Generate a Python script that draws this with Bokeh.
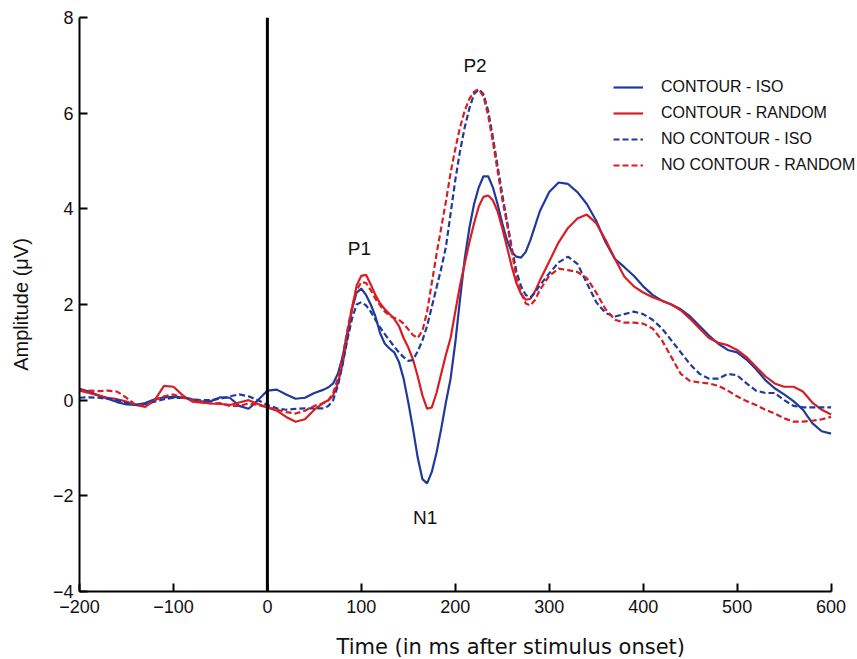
from bokeh.plotting import figure
from bokeh.models import Range1d, Span, FixedTicker, ColumnDataSource, Title
from bokeh.embed import file_html
from bokeh.resources import INLINE
from bokeh.core.properties import value

# ---------------- data ----------------
TIME_MS = [-200, -190, -180, -170, -160, -150, -140, -130, -120, -110, -100, -90, -80,
           -70, -60, -50, -40, -30, -20, -10, 0, 10, 20, 30, 40, 50,
           60, 65, 70, 75, 80, 85, 90, 95, 100, 105, 110, 115, 120, 125, 130, 135, 140,
           145, 150, 155, 160, 165, 170, 175, 180, 185, 190, 195, 200, 205, 210, 215,
           220, 225, 230, 235, 240, 245, 250, 255, 260, 265, 270, 275, 280, 285, 290,
           300, 310, 320, 330, 340, 350, 360, 370, 380, 390, 400, 410, 420, 430, 440,
           450, 460, 470, 480, 490, 500, 510, 520, 530, 540, 550, 560, 570, 580, 590, 600]

CONTOUR_ISO = [0.24, 0.18, 0.10, 0.03, -0.04, -0.09, -0.10, -0.06, 0.02, 0.06, 0.07, 0.06, 0.02,
               -0.03, -0.02, 0.06, 0.05, -0.12, -0.18, 0.00, 0.20, 0.22, 0.12, 0.03, 0.05, 0.15,
               0.22, 0.27, 0.35, 0.55, 0.90, 1.40, 1.90, 2.25, 2.33, 2.20, 2.00, 1.75, 1.40, 1.18,
               1.08, 1.00, 0.80, 0.45, -0.05, -0.60, -1.20, -1.65, -1.74, -1.50, -1.10, -0.60,
               -0.05, 0.45, 1.20, 2.10, 2.95, 3.60, 4.10, 4.45, 4.68, 4.68, 4.45, 4.10, 3.70,
               3.35, 3.10, 3.00, 2.98, 3.10, 3.35, 3.65, 3.95,
               4.35, 4.55, 4.52, 4.35, 4.10, 3.75, 3.30, 2.95, 2.78, 2.60, 2.38, 2.20, 2.08,
               2.00, 1.90, 1.75, 1.55, 1.35, 1.18, 1.05, 1.00, 0.85, 0.65, 0.42, 0.25, 0.12,
               -0.02, -0.20, -0.48, -0.65, -0.70]

CONTOUR_RANDOM = [0.20, 0.15, 0.10, 0.05, 0.02, -0.03, -0.10, -0.14, 0.00, 0.30, 0.28, 0.10, -0.03,
                  -0.05, -0.07, -0.08, -0.10, -0.05, 0.00, -0.08, -0.15, -0.22, -0.35, -0.45, -0.40, -0.20,
                  -0.05, 0.00, 0.10, 0.35, 0.75, 1.30, 1.90, 2.40, 2.60, 2.62, 2.42, 2.20, 2.02, 1.90,
                  1.80, 1.70, 1.55, 1.30, 1.10, 0.85, 0.50, 0.10, -0.18, -0.15, 0.15, 0.55,
                  0.95, 1.30, 1.85, 2.40, 2.85, 3.30, 3.70, 4.05, 4.25, 4.28, 4.18, 3.95, 3.60,
                  3.20, 2.80, 2.45, 2.22, 2.10, 2.12, 2.28, 2.50,
                  2.90, 3.30, 3.60, 3.80, 3.88, 3.70, 3.35, 2.95, 2.58, 2.38, 2.25, 2.15, 2.08,
                  2.00, 1.88, 1.70, 1.50, 1.30, 1.20, 1.15, 1.05, 0.90, 0.70, 0.50, 0.35, 0.28,
                  0.28, 0.18, -0.05, -0.20, -0.30]

NO_CONTOUR_ISO = [0.05, 0.06, 0.05, 0.03, 0.00, -0.06, -0.10, -0.08, -0.03, 0.02, 0.05, 0.05, 0.02,
                  0.00, 0.00, 0.03, 0.08, 0.12, 0.08, 0.00, -0.10, -0.17, -0.20, -0.18, -0.17, -0.17,
                  -0.17, -0.12, 0.00, 0.30, 0.75, 1.25, 1.70, 2.00, 2.05, 1.98, 1.85, 1.68, 1.52, 1.38,
                  1.25, 1.12, 1.00, 0.90, 0.82, 0.84, 1.02, 1.25, 1.55, 1.95, 2.35, 2.75,
                  3.20, 3.90, 4.60, 5.20, 5.70, 6.10, 6.40, 6.50, 6.40, 6.05, 5.50, 4.90, 4.30,
                  3.75, 3.20, 2.70, 2.38, 2.20, 2.15, 2.25, 2.40,
                  2.65, 2.88, 3.00, 2.85, 2.45, 2.05, 1.82, 1.75, 1.80, 1.85, 1.80, 1.68, 1.50,
                  1.25, 1.00, 0.75, 0.55, 0.45, 0.45, 0.55, 0.52, 0.35, 0.20, 0.15, 0.15, 0.00,
                  -0.12, -0.15, -0.15, -0.15, -0.15]

NO_CONTOUR_RANDOM = [0.20, 0.20, 0.19, 0.20, 0.18, 0.05, -0.10, -0.12, 0.00, 0.08, 0.12, 0.05, 0.00,
                     -0.03, -0.07, -0.06, -0.12, -0.12, -0.07, -0.10, -0.15, -0.20, -0.25, -0.28, -0.22, -0.12,
                     -0.06, 0.00, 0.15, 0.45, 0.90, 1.45, 1.95, 2.30, 2.47, 2.45, 2.30, 2.12, 1.98, 1.85,
                     1.77, 1.72, 1.68, 1.60, 1.48, 1.36, 1.30, 1.45, 1.85, 2.45, 3.05, 3.60,
                     4.15, 4.75, 5.25, 5.70, 6.05, 6.30, 6.45, 6.50, 6.35, 5.95, 5.40, 4.80, 4.20,
                     3.70, 3.15, 2.55, 2.25, 2.02, 1.98, 2.10, 2.30,
                     2.60, 2.75, 2.72, 2.68, 2.55, 2.25, 1.90, 1.68, 1.62, 1.62, 1.60, 1.50, 1.25,
                     0.90, 0.55, 0.40, 0.37, 0.35, 0.30, 0.20, 0.08, -0.02, -0.10, -0.20, -0.28, -0.38,
                     -0.45, -0.45, -0.43, -0.40, -0.35]

SERIES_NAMES = ["CONTOUR - ISO", "CONTOUR - RANDOM", "NO CONTOUR - ISO", "NO CONTOUR - RANDOM"]

PEAK_NAMES = ["P1", "P2", "N1"]
PEAK_TIME = [98, 221, 168]
PEAK_AMP = [3.18, 7.0, -2.46]

X_TICKS = [-200, -100, 0, 100, 200, 300, 400, 500, 600]
Y_TICKS = [-4, -2, 0, 2, 4, 6, 8]
X_LABEL = "Time (in ms after stimulus onset)"
Y_LABEL = "Amplitude (\u03bcV)"

# ---------------- figure ----------------
BLUE = "#1f3a9c"
RED = "#d81e24"
TICK_FONT = "Liberation Sans"

# x range extends a little past 600 (axis drawn only to 600) so the legend text is not clipped
p = figure(width=857, height=659, output_backend="svg", toolbar_location=None,
           x_range=Range1d(-200, 626), y_range=Range1d(-4, 8),
           min_border_left=79, min_border_right=2, min_border_top=17, min_border_bottom=68)
p.outline_line_color = None
p.grid.visible = False
p.background_fill_color = "white"
p.border_fill_color = "white"

styles = [(CONTOUR_ISO, BLUE, "solid"), (CONTOUR_RANDOM, RED, "solid"),
          (NO_CONTOUR_ISO, BLUE, "6 3"), (NO_CONTOUR_RANDOM, RED, "6 3")]
for (vals, col, dash), name in zip(styles, SERIES_NAMES):
    src = ColumnDataSource(dict(t=TIME_MS, v=vals))
    p.line("t", "v", source=src, line_color=col, line_width=2.2, line_dash=dash,
           legend_label=name)

p.add_layout(Span(location=0, dimension="height", line_color="black", line_width=3))

lab_src = ColumnDataSource(dict(t=PEAK_TIME, v=PEAK_AMP, s=PEAK_NAMES))
p.text("t", "v", text="s", source=lab_src, text_align="center", text_baseline="middle",
       text_font=value(TICK_FONT), text_font_size="19px", text_color="#111111")

for ax, ticks in ((p.xaxis, X_TICKS), (p.yaxis, Y_TICKS)):
    ax.ticker = FixedTicker(ticks=ticks)
    ax.major_tick_in = 8
    ax.major_tick_out = 0
    ax.minor_tick_line_color = None
    ax.axis_line_width = 2
    ax.major_tick_line_width = 2
    ax.axis_line_color = "black"
    ax.major_tick_line_color = "black"
    ax.major_label_text_font = TICK_FONT
    ax.major_label_text_font_size = "18px"
    ax.major_label_text_color = "#111111"
    ax.axis_label_text_font_style = "normal"
    ax.axis_label_text_color = "#111111"

p.xaxis.bounds = (-200, 600)
p.xaxis.major_label_overrides = {t: (str(t).replace("-", "\u2212")) for t in X_TICKS}
p.yaxis.major_label_overrides = {t: (str(t).replace("-", "\u2212")) for t in Y_TICKS}
p.xaxis.major_label_standoff = 8
p.yaxis.major_label_standoff = 6

# blank, tiny x axis label acts as a spacer so the real x title sits lower
p.xaxis.axis_label = " "
p.xaxis.axis_label_text_font_size = "2px"
p.xaxis.axis_label_standoff = 12

# x-axis title sits right of centre in the reference: use a below-panel Title with an offset
p.add_layout(Title(text=X_LABEL, align="left", offset=257, standoff=0,
                   vertical_align="bottom",
                   text_font="DejaVu Sans", text_font_size="21px",
                   text_font_style="normal", text_color="#111111"), "below")

p.yaxis.axis_label = Y_LABEL
p.yaxis.axis_label_text_font = TICK_FONT
p.yaxis.axis_label_text_font_size = "20px"
p.yaxis.axis_label_standoff = 18

leg = p.legend[0]
leg.location = (534, 415)
leg.border_line_color = None
leg.background_fill_alpha = 0
leg.padding = 0
leg.margin = 0
leg.spacing = 4
leg.glyph_width = 30
leg.glyph_height = 22
leg.label_height = 22
leg.label_standoff = 18
leg.label_text_font = TICK_FONT
leg.label_text_font_size = "16px"
leg.label_text_color = "#111111"

open("out.html", "w").write(file_html(p, INLINE))
